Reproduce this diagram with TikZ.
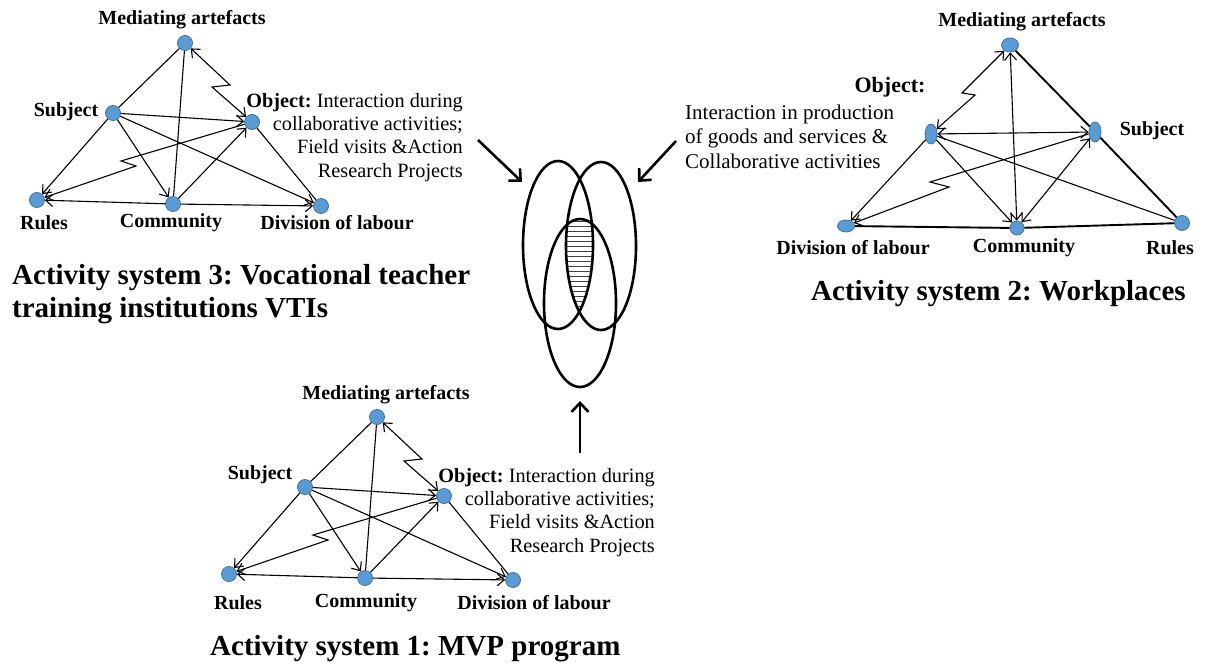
\documentclass[tikz,border=0pt]{standalone}
\usepackage{fontspec}
\setmainfont{Liberation Serif}
\usetikzlibrary{arrows.meta,calc,shapes.geometric}
\definecolor{dotblue}{HTML}{5B9BD5}
\definecolor{dotedge}{HTML}{41719C}
\frenchspacing
\tikzset{
  dot/.style={circle, fill=dotblue, draw=dotedge, line width=0.8pt, minimum size=15pt, inner sep=0pt},
  edot/.style={ellipse, fill=dotblue, draw=dotedge, line width=0.8pt, inner sep=0pt},
  lbl/.style={font=\fontsize{20}{23}\selectfont\bfseries, inner sep=0pt},
  txt/.style={font=\fontsize{20.3}{23.3}\selectfont, inner sep=0pt},
  txtb/.style={font=\fontsize{21}{24.5}\selectfont, inner sep=0pt},
  ttl/.style={font=\fontsize{29}{33}\selectfont\bfseries, inner sep=0pt, anchor=base west, align=left},
  ln/.style={line width=1.1pt, black},
  thk/.style={line width=1.9pt, black},
  ar/.style={ln, -{Straight Barb[length=7pt,width=12pt]}},
  dar/.style={ln, {Straight Barb[length=7pt,width=12pt]}-{Straight Barb[length=7pt,width=12pt]}},
  big/.style={line width=2.6pt, black, -{Straight Barb[length=9pt,width=17pt]}},
  ring/.style={line width=2.6pt, black},
  hatch/.style={line width=0.7pt, black!75},
}
\newcommand{\actsys}[3]{%
  \node[dot] (#1ma) at ({185+#2},{43+#3}) {};
  \node[dot] (#1su) at ({113+#2},{113+#3}) {};
  \node[dot] (#1ob) at ({252+#2},{122+#3}) {};
  \node[dot] (#1ru) at ({37+#2},{200+#3}) {};
  \node[dot] (#1co) at ({173+#2},{204+#3}) {};
  \node[dot] (#1di) at ({321+#2},{206+#3}) {};
  \draw[ln] (#1su) -- (#1ma);
  \draw[ln] (#1co) -- (#1ma);
  \draw[dar] (#1ma) -- ({230+#2},{85+#3}) -- ({212+#2},{87+#3}) -- (#1ob);
  \draw[ar] (#1su) -- (#1ob);
  \draw[ar] (#1co) -- (#1ob);
  \draw[ar] (#1ob) -- ({121+#2},{161+#3}) -- ({136+#2},{166+#3}) -- (#1ru);
  \draw[ar] (#1su) -- (#1ru);
  \draw[ar] (#1co) -- (#1ru);
  \draw[ar] (#1co) -- (#1di);
  \draw[ar] (#1su) -- (#1di);
  \draw[ln] (#1ob) -- (#1di);
  \draw[ar] (#1su) -- (#1co);
}
\begin{document}
\begin{tikzpicture}[x=1pt,y=-1pt]
\fill[white] (0,0) rectangle (1206,666);
\useasboundingbox (0,0) rectangle (1206,666);

% ---------- Activity system 3 ----------
\actsys{a}{0}{0}
\node[lbl] (la3ma) at (182,20) {Mediating artefacts};
\node[lbl] (la3su) at (66,112) {Subject};
\node[lbl] (la3ru) at (44,223) {Rules};
\node[lbl] (la3co) at (171,223) {Community};
\node[lbl] (la3di) at (337,223) {Division of labour};
\node[txt, align=right, anchor=base east] (la3ob) at (463,177)
  {\textbf{Object:} Interaction during\\collaborative activities;\\Field visits \&Action\\Research Projects};
\node[ttl] (t3) at (12,317) {Activity system 3: Vocational teacher\\training institutions VTIs};

% ---------- Activity system 1 ----------
\actsys{b}{192}{374}
\node[lbl] (lb1ma) at (386,395) {Mediating artefacts};
\node[lbl] (lb1su) at (260,475) {Subject};
\node[lbl] (lb1ru) at (238,603) {Rules};
\node[lbl] (lb1co) at (366,603) {Community};
\node[lbl] (lb1di) at (534,603) {Division of labour};
\node[txt, align=right, anchor=base east] (lb1ob) at (655,552)
  {\textbf{Object:} Interaction during\\collaborative activities;\\Field visits \&Action\\Research Projects};
\node[ttl] (t1) at (210,655) {Activity system 1: MVP program};

% ---------- Activity system 2 ----------
\node[edot, minimum width=17pt, minimum height=14pt] (cma) at (1010,45) {};
\node[edot, minimum width=12pt, minimum height=20pt] (cob) at (931,134) {};
\node[edot, minimum width=12pt, minimum height=20pt] (csu) at (1095,132) {};
\node[edot, minimum width=17pt, minimum height=12pt] (cdi) at (846,226) {};
\node[edot, minimum width=14pt, minimum height=14pt] (cco) at (1017,228) {};
\node[edot, minimum width=15pt, minimum height=15pt] (cru) at (1182,223) {};
\draw[thk] (cma) -- (csu);
\draw[thk] (csu) -- (cru);
\draw[thk] (cdi) -- (cco);
\draw[thk] (cco) -- (cru);
\draw[dar] (cma) -- (962,93) -- (975,95) -- (cob);
\draw[dar] (cob) -- (csu);
\draw[dar] (cco) -- (cma);
\draw[ar] (cob) -- (cdi);
\draw[ar] (csu) -- (930,182) -- (949,187) -- (cdi);
\draw[ar] (cob) -- (cco);
\draw[dar] (cco) -- (csu);
\draw[ln] (cob) -- (cru);
\node[lbl] (lcma) at (1022,22) {Mediating artefacts};
\node[lbl, font=\fontsize{22}{24}\selectfont\bfseries] (lcob) at (890,87) {Object:};
\node[lbl] (lcsu) at (1152,131) {Subject};
\node[lbl] (lcdi) at (853,248) {Division of labour};
\node[lbl] (lcco) at (1024,248) {Community};
\node[lbl] (lcru) at (1170,248) {Rules};
\node[txtb, align=left, anchor=base west] (lctx) at (685,168)
  {Interaction in production\\of goods and services \&\\Collaborative activities};
\node[ttl] (t2) at (811,300) {Activity system 2: Workplaces};

% ---------- Overlapping systems ----------
\begin{scope}
  \clip (558,245) ellipse [x radius=35, y radius=84];
  \clip (601,246) ellipse [x radius=35, y radius=84];
  \clip (580,303) ellipse [x radius=36, y radius=84];
  \foreach \yy in {216,221,...,336} \draw[hatch] (540,\yy) -- (620,\yy);
\end{scope}
\draw[ring] (558,245) ellipse [x radius=35, y radius=84];
\draw[ring] (601,246) ellipse [x radius=35, y radius=84];
\draw[ring] (580,303) ellipse [x radius=36, y radius=84];

\coordinate (s3) at (478,140);
\coordinate (e3) at (522,182);
\coordinate (s2) at (676,141);
\coordinate (e2) at (638,182);
\coordinate (s1) at (580,453);
\coordinate (e1) at (580,401);
\draw[big] (s3) -- (e3);
\draw[big] (s2) -- (e2);
\draw[big] (s1) -- (e1);
\end{tikzpicture}
\end{document}
